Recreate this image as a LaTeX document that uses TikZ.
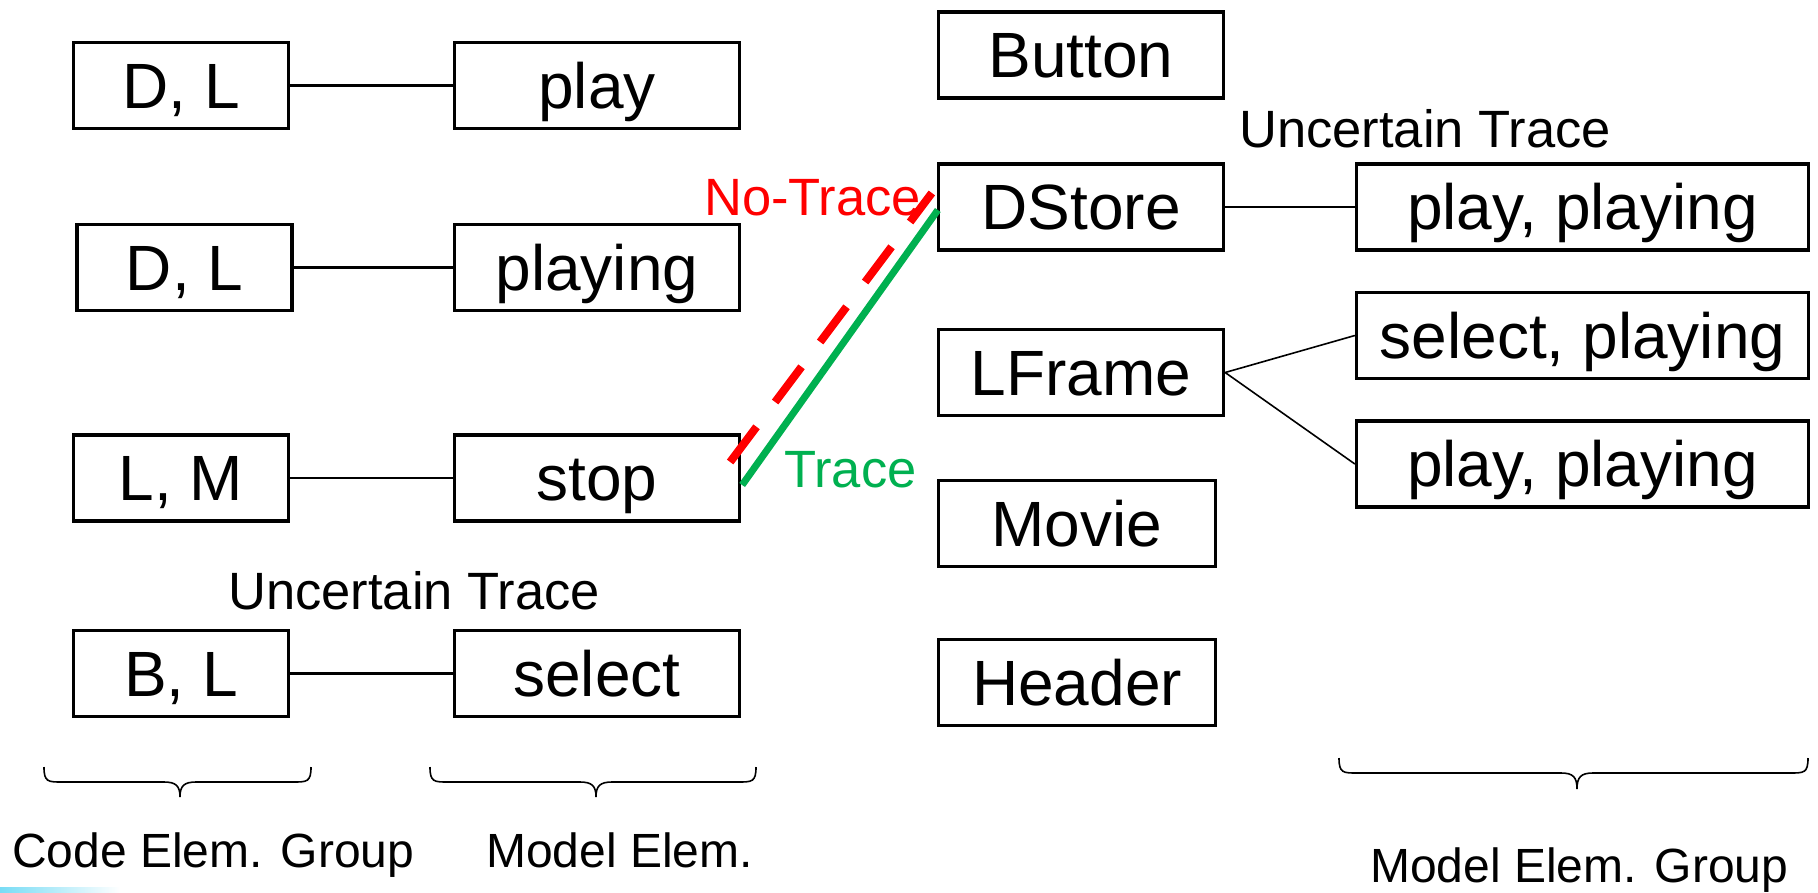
\documentclass[tikz,border=0pt]{standalone}
\usepackage{fontspec}
\setmainfont{Liberation Sans}
\usetikzlibrary{calc}
\definecolor{tracegreen}{RGB}{0,176,80}
\definecolor{tracered}{RGB}{255,0,0}
\definecolor{stripcyan}{RGB}{120,220,245}
\begin{document}
\begin{tikzpicture}[x=1pt,y=-1pt,
  box/.style={draw, line width=3.3pt, inner sep=0pt, text height=45.5pt, text depth=0pt,
    font=\fontsize{64}{72}\selectfont, minimum height=86pt},
  leftbox/.style={box, minimum width=215pt},
  modelbox/.style={box, minimum width=285pt},
  groupbox/.style={box, minimum width=452pt},
  conn/.style={line width=2.6pt},
  thinconn/.style={line width=1.6pt},
  lbl/.style={inner sep=0pt, anchor=base west, font=\fontsize{52.5}{60}\selectfont},
  blbl/.style={inner sep=0pt, anchor=base west, font=\fontsize{48}{56}\selectfont},
  bracepath/.style={line width=1.6pt},
  tracegreenline/.style={draw=tracegreen, line width=7pt},
  traceredline/.style={draw=tracered, line width=8pt, dash pattern=on 44pt off 31pt}]
\useasboundingbox (0,0) rectangle (1818,892);

% left column
\node[leftbox] (dl1) at (181,85.5) {D, L};
\node[modelbox] (play) at (597,85.5) {play};
\node[leftbox] (dl2) at (184.5,267.5) {D, L};
\node[modelbox] (playing) at (597,267.5) {playing};
\node[leftbox] (lm) at (181,478) {L, M};
\node[modelbox] (stop) at (597,478) {stop};
\node[leftbox] (bl) at (181,673.5) {B, L};
\node[modelbox] (select) at (597,673.5) {select};

\draw[conn] (dl1) -- (play);
\draw[conn] (dl2) -- (playing);
\draw[conn] (lm) -- (stop);
\draw[conn] (bl) -- (select);

% middle column
\node[modelbox] (button) at (1081,55) {Button};
\node[modelbox] (dstore) at (1081,207) {DStore};
\node[modelbox] (lframe) at (1081,372.5) {LFrame};
\node[box, minimum width=277pt] (movie) at (1077,523.5) {Movie};
\node[box, minimum width=277pt] (header) at (1077,682.5) {Header};

% right column
\node[groupbox] (pp1) at (1582.5,207) {play, playing};
\node[groupbox] (sp) at (1582.5,335.5) {select, playing};
\node[groupbox] (pp2) at (1582.5,464) {play, playing};

\draw[thinconn] (dstore) -- (pp1);
\draw[thinconn] (lframe.east) -- (sp.west);
\draw[thinconn] (lframe.east) -- (pp2.west);

% labels
\node[lbl] (ut1) at (1239,147) {Uncertain Trace};
\node[lbl] (ut2) at (228,609) {Uncertain Trace};
\node[lbl, text=tracered] (notrace) at (704,215) {No-Trace};
\node[lbl, text=tracegreen] (trace) at (784,487) {Trace};

% trace links
\coordinate (gs) at ($(stop.east)+(1,7)$);
\coordinate (ge) at ($(dstore.west)+(1,3)$);
\coordinate (rs) at ($(stop.east)+(-11,-16)$);
\coordinate (re) at ($(dstore.west)+(-5,-14)$);
\draw[traceredline] (rs) -- (re);
\draw[tracegreenline] (gs) -- (ge);

% braces
\draw[bracepath] (44,767) .. controls (44,782) and (48,782) .. (62,782) -- (164,782)
  .. controls (176,782) and (180,786) .. (180,797)
  .. controls (180,786) and (184,782) .. (196,782) -- (293,782)
  .. controls (307,782) and (311,782) .. (311,767);
\draw[bracepath] (430,767) .. controls (430,782) and (434,782) .. (448,782) -- (580,782)
  .. controls (592,782) and (596,786) .. (596,797)
  .. controls (596,786) and (600,782) .. (612,782) -- (738,782)
  .. controls (752,782) and (756,782) .. (756,767);
\draw[bracepath] (1339,758) .. controls (1339,773) and (1343,773) .. (1357,773) -- (1561,773)
  .. controls (1573,773) and (1577,777) .. (1577,789)
  .. controls (1577,777) and (1581,773) .. (1593,773) -- (1790,773)
  .. controls (1804,773) and (1808,773) .. (1808,758);

% bottom labels
\node[blbl] (ceg) at (12,867) {Code Elem. Group};
\node[blbl] (me) at (486,867) {Model Elem.};
\node[blbl] (meg) at (1370,882) {Model Elem. Group};

% stray strip at bottom left
\shade[left color=stripcyan, right color=white] (0,887) rectangle (120,892);
\end{tikzpicture}
\end{document}
